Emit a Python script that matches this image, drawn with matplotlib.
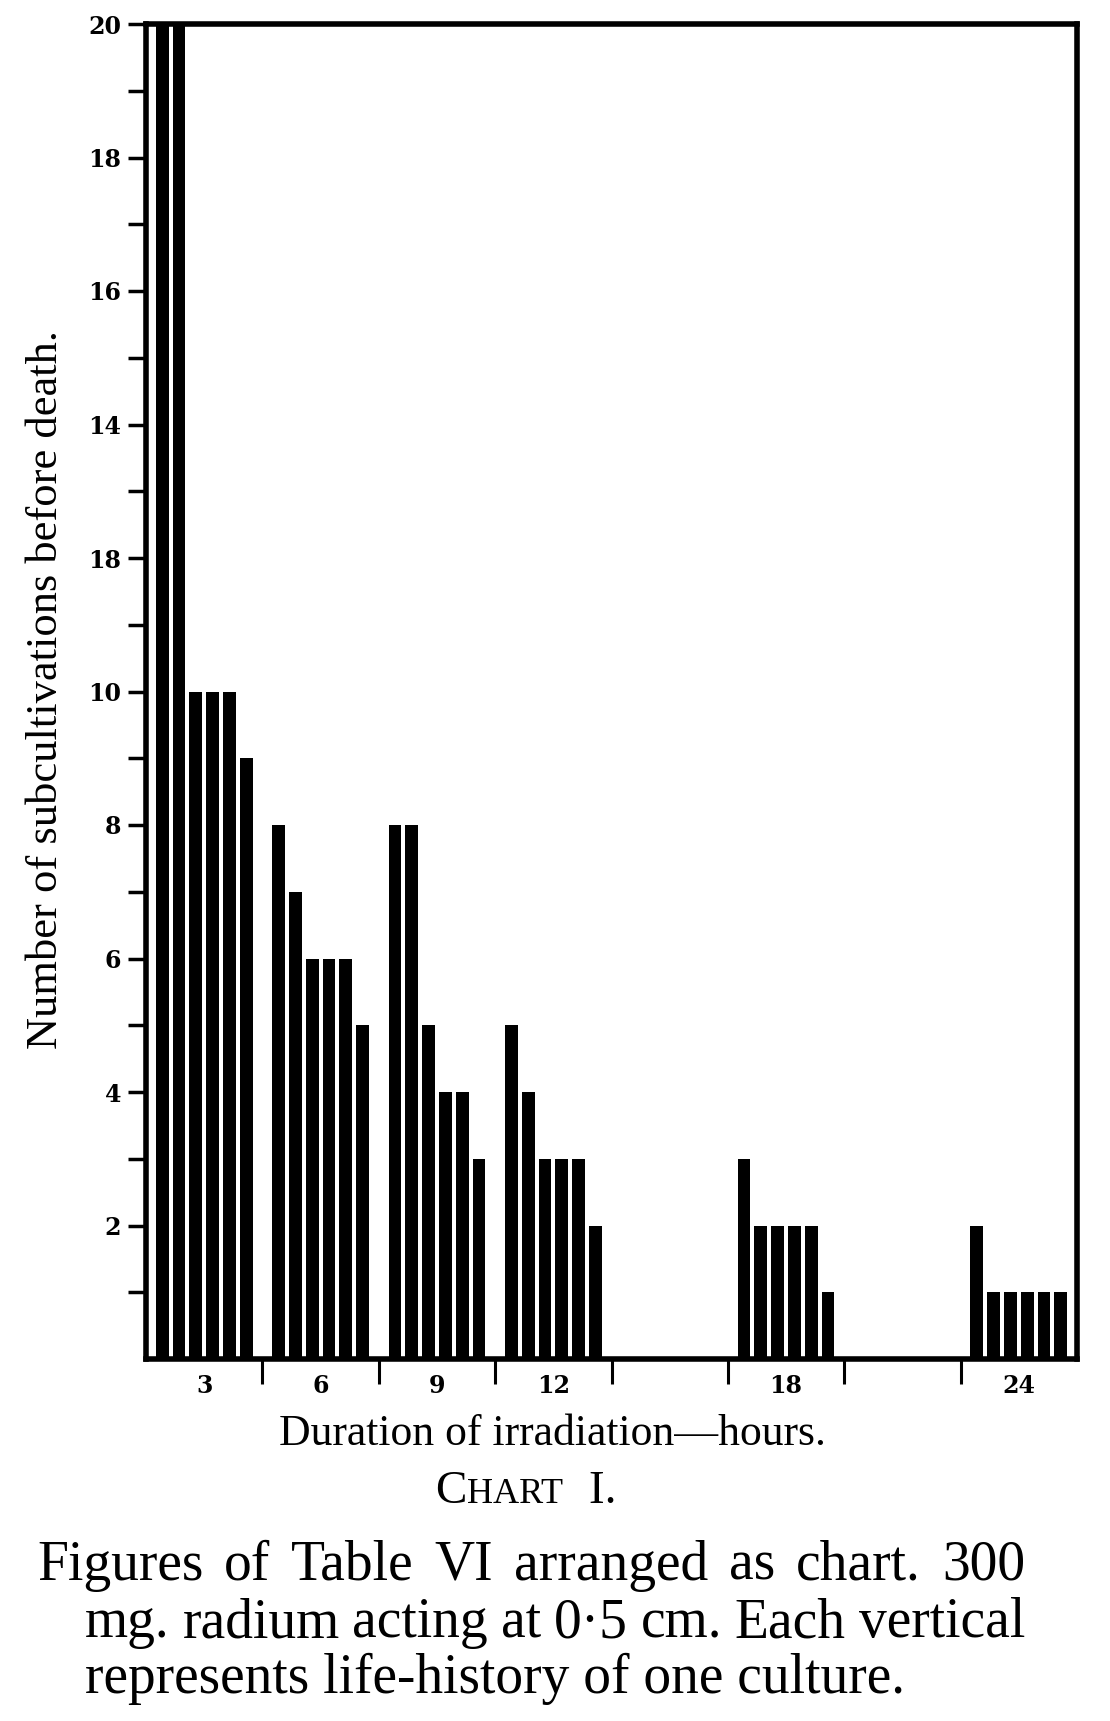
import numpy as np
import matplotlib
matplotlib.use("Agg")
import matplotlib.pyplot as plt
from matplotlib.transforms import IdentityTransform

# ---------------- data ----------------
hours = [3, 6, 9, 12, 15, 18, 21, 24]
hour_labels = ["3", "6", "9", "12", "", "18", "", "24"]
cultures_3h = [20, 20, 10, 10, 10, 9]
cultures_6h = [8, 7, 6, 6, 6, 5]
cultures_9h = [8, 8, 5, 4, 4, 3]
cultures_12h = [5, 4, 3, 3, 3, 2]
cultures_15h = []
cultures_18h = [3, 2, 2, 2, 2, 1]
cultures_21h = []
cultures_24h = [2, 1, 1, 1, 1, 1]
groups = [cultures_3h, cultures_6h, cultures_9h, cultures_12h,
          cultures_15h, cultures_18h, cultures_21h, cultures_24h]
y_ticks = list(range(1, 21))
y_tick_labels = ["", "2", "", "4", "", "6", "", "8", "", "10",
                 "", "18", "", "14", "", "16", "", "18", "", "20"]

ylabel_text = "Number of subcultivations before death."
xlabel_text = "Duration of irradiation\u2014hours."
caption_lines = ["Figures of Table VI arranged as chart.  300",
                 "mg. radium acting at 0\u00b75 cm.  Each vertical",
                 "represents life-history of one culture."]

# ---------------- figure ----------------
W, H = 1110, 1721
fig = plt.figure(figsize=(W / 100, H / 100), dpi=100)
fig.patch.set_facecolor("white")

L, R, T, B = 146, 1077, 24, 1359
ax = fig.add_axes([L / W, 1 - B / H, (R - L) / W, (B - T) / H])

pitch = 0.433
bw = 0.33
for h, vals in zip(hours, groups):
    n = len(vals)
    if n == 0:
        continue
    xs = h + (np.arange(n) - (n - 1) / 2) * pitch
    ax.bar(xs, vals, width=bw, color="black", linewidth=0, clip_on=True)

ax.set_xlim(1.5, 25.5)
ax.set_ylim(0, 20)

for s in ax.spines.values():
    s.set_linewidth(4)
    s.set_color("black")

tick_font = dict(family="DejaVu Serif", weight="bold", size=17)
ax.set_yticks(y_ticks)
ax.set_yticklabels(y_tick_labels, fontdict=tick_font)
ax.tick_params(axis="y", direction="out", length=13, width=2.5, pad=5,
               color="black")

bounds = [h + 1.5 for h in hours[:-1]]
ax.set_xticks(bounds)
ax.set_xticklabels([""] * len(bounds))
ax.tick_params(axis="x", which="major", direction="out", length=18,
               width=2.2, color="black")
ax.set_xticks(hours, minor=True)
ax.set_xticklabels(hour_labels, minor=True, fontdict=tick_font)
ax.tick_params(axis="x", which="minor", length=0, pad=11)

serif = "Liberation Serif"
ident = IdentityTransform()

def put(x, y, s, **kw):
    return fig.text(x, H - y, s, transform=ident, family=serif,
                    color="black", **kw)

# y label
put(46, 690, ylabel_text, rotation=90, ha="center", va="center", size=32)
# x label
put(552, 1445, xlabel_text, ha="center", va="baseline", size=31.5)

# CHART I. in small caps
renderer = fig.canvas.get_renderer()
parts = [("C", 34), ("HART", 26), (" I.", 34)]
extra = [0, 0, 14]
arts = []
for txt, sz in parts:
    arts.append(put(0, 1503, txt, ha="left", va="baseline", size=sz))
widths = [a.get_window_extent(renderer).width for a in arts]
total = sum(widths) + sum(extra)
x0 = 526 - total / 2
for a, w, e in zip(arts, widths, extra):
    x0 += e
    a.set_x(x0)
    x0 += w

# caption (justified lines)
cap_size = 40
lefts = [37, 85, 85]
baselines = [1580, 1637, 1693]
right_edge = 1025
for i, line in enumerate(caption_lines):
    if i < 2:
        words = line.split()
        warts = [put(0, baselines[i], w, ha="left", va="baseline",
                     size=cap_size) for w in words]
        ws = [a.get_window_extent(renderer).width for a in warts]
        gap = (right_edge - lefts[i] - sum(ws)) / (len(words) - 1)
        x = lefts[i]
        for a, w in zip(warts, ws):
            a.set_x(x)
            x += w + gap
    else:
        put(lefts[i], baselines[i], line, ha="left", va="baseline",
            size=cap_size)

fig.savefig("out.png", dpi=100, facecolor="white")
